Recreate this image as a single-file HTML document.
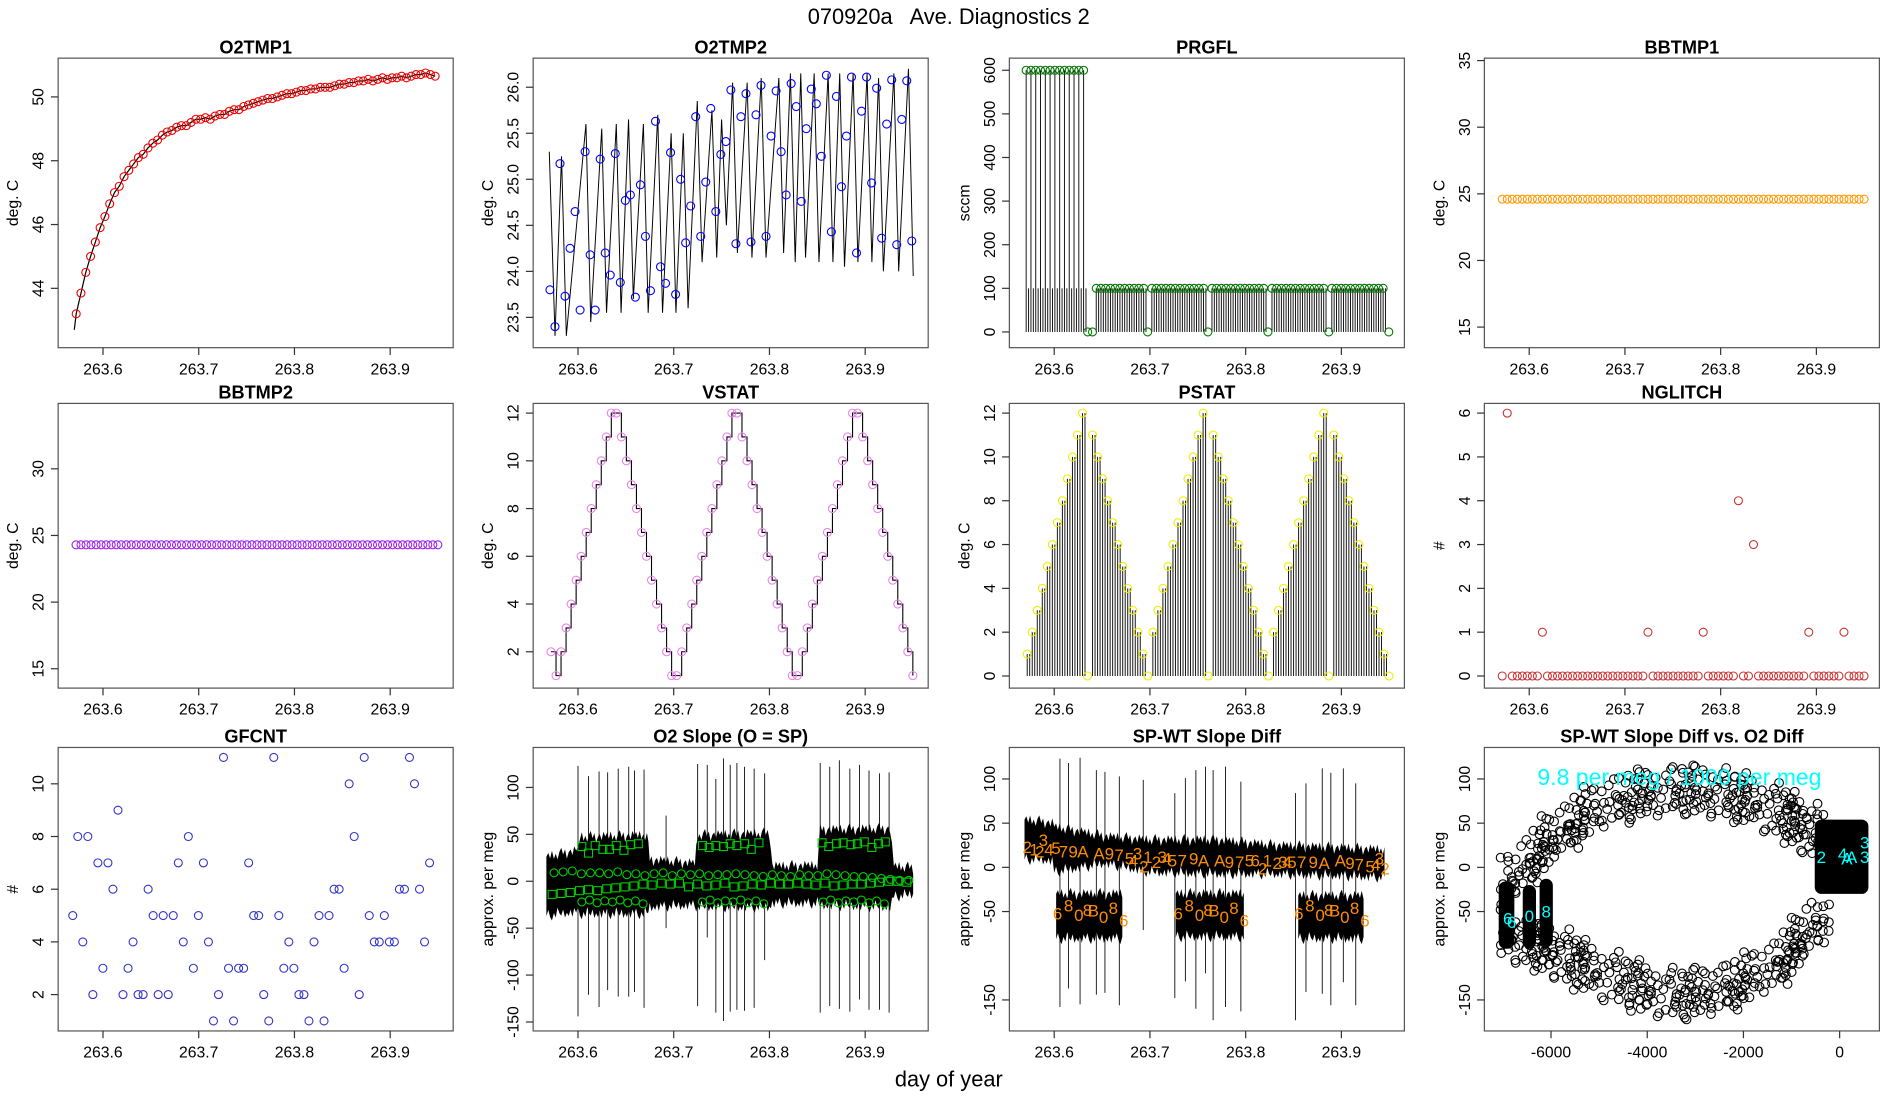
<!DOCTYPE html>
<html><head><meta charset="utf-8"><title>070920a Ave. Diagnostics 2</title>
<style>
html,body{margin:0;padding:0;background:#fff;}
svg{display:block;font-family:"Liberation Sans",Arial,sans-serif;}
</style></head>
<body>
<svg id="chart" xmlns="http://www.w3.org/2000/svg" width="1900" height="1100" viewBox="0 0 1568 908" preserveAspectRatio="none">
<rect x="0" y="0" width="1568" height="908" fill="#fff"/>
<text x="783" y="20" text-anchor="middle" font-size="18" style="white-space:pre">070920a   Ave. Diagnostics 2</text>
<text x="783" y="897" text-anchor="middle" font-size="18">day of year</text>
</svg>
<script>
// ---------- data ----------
const timeTicks = [263.6, 263.7, 263.8, 263.9];
const timeTickLabels = ["263.6", "263.7", "263.8", "263.9"];

const o2tmp1Vals = [43.2,43.85,44.5,45.0,45.45,45.9,46.25,46.65,47.0,47.2,47.5,47.7,47.9,48.1,48.2,48.4,48.55,48.65,48.8,48.9,48.95,49.05,49.1,49.1,49.2,49.3,49.3,49.35,49.3,49.4,49.45,49.45,49.55,49.6,49.6,49.7,49.75,49.8,49.85,49.9,49.95,49.95,50.0,50.05,50.1,50.1,50.15,50.2,50.2,50.25,50.25,50.3,50.3,50.3,50.35,50.4,50.4,50.45,50.45,50.5,50.5,50.55,50.5,50.55,50.6,50.55,50.6,50.6,50.65,50.6,50.65,50.7,50.7,50.75,50.7,50.65];
const o2tmp1Start = [263.570, 42.7];

const o2tmp2Vals = [23.8,23.4,25.17,23.73,24.25,24.65,23.58,25.3,24.18,23.58,25.22,24.2,23.96,25.28,23.88,24.77,24.83,23.72,24.94,24.38,23.79,25.63,24.05,23.87,25.29,23.75,25.0,24.31,24.71,25.68,24.38,24.97,25.77,24.65,25.27,25.41,25.97,24.3,25.68,25.93,24.32,25.7,26.02,24.38,25.47,25.96,25.3,24.83,26.04,25.79,24.76,25.55,25.98,25.82,25.25,26.13,24.43,25.9,24.92,25.47,26.11,24.2,25.74,26.11,24.96,25.99,24.36,25.6,26.08,24.29,25.65,26.07,24.33];
const o2tmp2PeakT = [263.5828,263.6083,263.6248,263.640,263.6528,263.6683,263.6833,263.6973,263.710,263.7246,263.7399,263.750,263.7615,263.7767,263.7914,263.8098,263.8219,263.8327,263.8467,263.8613,263.8734,263.8874,263.902,263.914,263.93,263.9452];
const o2tmp2PeakV = [25.25,25.6,25.55,25.6,25.65,25.6,25.7,25.5,25.5,25.85,25.75,25.65,26.05,26.05,26.1,26.1,26.15,26.15,26.15,26.15,26.15,26.15,26.15,26.1,26.15,26.2];
const o2tmp2TroughV = [23.3,23.45,23.55,23.55,23.7,23.55,23.55,23.55,23.6,24.1,24.15,24.5,24.2,24.15,24.15,24.2,24.1,24.15,24.1,24.1,24.05,24.1,24.1,24.0,24.0,23.95];

const prgGroupStart = [263.5707,263.6439,263.702,263.7648,263.8275,263.890];
const prgGroupEnd   = [263.6307,263.6934,263.756,263.8188,263.8815,263.9436];
const prgGroupCount = [13,11,12,12,12,12];
const prgGroupValue = [600,100,100,100,100,100];
const prgZeroT = [263.635,263.640,263.6976,263.7606,263.8233,263.8868,263.9495];

const bbtmp1Vals = [24.6,24.6,24.6,24.6,24.6,24.6,24.6,24.6,24.6,24.6,24.6,24.6,24.6,24.6,24.6,24.6,24.6,24.6,24.6,24.6,24.6,24.6,24.6,24.6,24.6,24.6,24.6,24.6,24.6,24.6,24.6,24.6,24.6,24.6,24.6,24.6,24.6,24.6,24.6,24.6,24.6,24.6,24.6,24.6,24.6,24.6,24.6,24.6,24.6,24.6,24.6,24.6,24.6,24.6,24.6,24.6,24.6,24.6,24.6,24.6,24.6,24.6,24.6,24.6,24.6,24.6,24.6,24.6,24.6,24.6,24.6,24.6,24.6];
const bbtmp2Vals = [24.3,24.3,24.3,24.3,24.3,24.3,24.3,24.3,24.3,24.3,24.3,24.3,24.3,24.3,24.3,24.3,24.3,24.3,24.3,24.3,24.3,24.3,24.3,24.3,24.3,24.3,24.3,24.3,24.3,24.3,24.3,24.3,24.3,24.3,24.3,24.3,24.3,24.3,24.3,24.3,24.3,24.3,24.3,24.3,24.3,24.3,24.3,24.3,24.3,24.3,24.3,24.3,24.3,24.3,24.3,24.3,24.3,24.3,24.3,24.3,24.3,24.3,24.3,24.3,24.3,24.3,24.3,24.3,24.3,24.3,24.3,24.3,24.3];

const vstatVals = [2,1,2,3,4,5,6,7,8,9,10,11,12,12,11,10,9,8,7,6,5,4,3,2,1,1,2,3,4,5,6,7,8,9,10,11,12,12,11,10,9,8,7,6,5,4,3,2,1,1,2,3,4,5,6,7,8,9,10,11,12,12,11,10,9,8,7,6,5,4,3,2,1];
const pstatVals = [1,2,3,4,5,6,7,8,9,10,11,12,0,11,10,9,8,7,6,5,4,3,2,1,0,2,3,4,5,6,7,8,9,10,11,12,0,11,10,9,8,7,6,5,4,3,2,1,0,2,3,4,5,6,7,8,9,10,11,12,0,11,10,9,8,7,6,5,4,3,2,1,0];
const nglitchVals = [0,6,0,0,0,0,0,0,1,0,0,0,0,0,0,0,0,0,0,0,0,0,0,0,0,0,0,0,0,1,0,0,0,0,0,0,0,0,0,0,1,0,0,0,0,0,0,4,0,0,3,0,0,0,0,0,0,0,0,0,0,1,0,0,0,0,0,0,1,0,0,0,0];
const gfcntVals = [5,8,4,8,2,7,3,7,6,9,2,3,4,2,2,6,5,2,5,2,5,7,4,8,3,5,7,4,1,2,11,3,1,3,3,7,5,5,2,1,11,5,3,4,3,2,2,1,4,5,1,5,6,6,3,10,8,2,11,5,4,4,5,4,4,6,6,11,10,6,4,7];

const slopeSpikeT = [263.600,263.611,263.622,263.631,263.642,263.653,263.659,263.669,263.692,263.725,263.735,263.744,263.752,263.759,263.766,263.774,263.784,263.795,263.853,263.863,263.873,263.884,263.894,263.904,263.915,263.925];
const slopeSpikeHi = [123,112,117,116,120,122,118,119,70,125,124,109,131,124,126,122,120,115,126,122,129,120,124,118,115,116];
const slopeSpikeLo = [-144,-121,-134,-116,-123,-123,-118,-135,-50,-133,-60,-140,-149,-139,-137,-138,-135,-84,-140,-133,-136,-139,-126,-137,-137,-140];
const slopeBandT  = [263.567,263.600,263.602,263.672,263.675,263.722,263.725,263.800,263.803,263.850,263.853,263.926,263.930,263.952];
const slopeBandHi = [26,33,47,49,23,19,49,51,16,17,55,56,16,14];
const slopeBandLo = [-36,-32,-34,-34,-27,-25,-27,-27,-23,-23,-25,-27,-16,-13];
const slopeHighSqT = [263.604,263.611,263.618,263.626,263.633,263.640,263.648,263.655,263.663,263.730,263.737,263.744,263.752,263.759,263.766,263.774,263.781,263.789,263.855,263.862,263.870,263.877,263.885,263.892,263.899,263.907,263.914,263.921];
const slopeHighSqV = [37,30,38,34,34,38,33,39,40,38,36,38,37,40,38,40,34,41,41,37,40,41,39,40,42,36,40,42];
const slopeLowSqV = [-14,-13,-12,-10,-9,-10,-8,-7,-6,-5,-3,-4,-2,-3,-2,-6,-3,-5,-4,-2,-6,-5,-3,-4,-2,-3,-3,-2,-3,-4,-2,-5,-4,-3,-3,-2,-1,0,0,-1];
const slopeMidCircV = [9,10,11,8,9,9,8,10,7,8,6,8,9,6,8,7,8,6,7,7,8,7,6,5,7,6,5,7,6,6,8,7,6,5,5,4,3,2,1,1];
const slopeLowCircT = [263.604,263.612,263.620,263.628,263.636,263.644,263.652,263.660,263.668,263.730,263.738,263.746,263.754,263.762,263.770,263.778,263.786,263.794,263.856,263.864,263.872,263.880,263.888,263.896,263.904,263.912,263.920];
const slopeLowCircV = [-22,-20,-23,-21,-22,-20,-23,-21,-24,-22,-20,-23,-21,-22,-20,-23,-21,-24,-22,-20,-23,-21,-22,-20,-23,-21,-24];

const diffSpikeT = [263.606,263.615,263.627,263.644,263.653,263.668,263.693,263.726,263.737,263.748,263.758,263.766,263.779,263.795,263.852,263.863,263.880,263.889,263.902,263.915];
const diffSpikeHi = [123,118,124,110,108,103,99,84,101,110,114,110,114,97,84,95,112,107,112,95];
const diffSpikeLo = [-158,-137,-155,-144,-142,-156,-71,-148,-129,-160,-120,-173,-158,-163,-173,-141,-143,-156,-130,-156];
const diffBandT  = [263.569,263.598,263.600,263.653,263.700,263.770,263.830,263.900,263.947];
const diffBandHi = [54,50,46,35,31,31,25,22,20];
const diffBandLo = [10,8,-5,5,-5,-7,-7,-9,-11];
const diffBlobT0 = [263.602,263.727,263.855];
const diffBlobT1 = [263.673,263.800,263.925];
const diffBlobHi = [-30,-30,-32];
const diffBlobLo = [-80,-78,-80];
const diffLabelT = [263.5718,263.579,263.585,263.5886,263.5946,263.6018,263.6096,263.6198,263.630,263.6468,263.6576,263.6678,263.6786,263.6828,263.687,263.6936,263.6978,263.7068,263.7128,263.7176,263.7236,263.7338,263.7458,263.756,263.7728,263.783,263.7938,263.804,263.81,263.8178,263.8226,263.8328,263.8388,263.8436,263.8484,263.8586,263.8706,263.882,263.8988,263.909,263.9186,263.93,263.936,263.9396,263.9456,
263.6036,263.615,263.6258,263.6348,263.6408,263.6516,263.6618,263.6726,
263.7296,263.741,263.7518,263.7608,263.7668,263.7776,263.7878,263.7986,
263.8556,263.867,263.8778,263.8868,263.8928,263.9036,263.9138,263.9246];
const diffLabelV = [23,20,18,31,20,22,18,18,18,16,16,14,10,8,16,1,12,6,12,10,8,8,10,8,8,6,6,8,8,-1,8,5,6,6,6,6,6,5,8,5,3,1,3,10,-1,
-52,-43,-54,-48,-49,-56,-46,-60,
-52,-43,-54,-48,-49,-56,-46,-60,
-52,-43,-54,-48,-49,-56,-46,-60];
const diffLabelS = ["2","1","2","3","4","5","7","9","A","A","9","7","5","4","3","2","1","2","3","4","5","7","9","A","A","9","7","5","6","2","1","2","3","4","5","7","9","A","A","9","7","5","4","3","2",
"6","8","0","8","B","0","8","6",
"6","8","0","8","B","0","8","6",
"6","8","0","8","B","0","8","6"];

const ringUpperX = [-6900,-6400,-5900,-5400,-4700,-4000,-3300,-2600,-2000,-1300,-800,-400];
const ringUpperY = [-20,10,35,55,75,83,88,85,78,65,50,35];
const ringLowerX = [-6900,-6400,-5900,-5400,-4700,-4000,-3300,-2600,-2000,-1300,-800,-400];
const ringLowerY = [-75,-85,-95,-110,-125,-138,-145,-140,-130,-110,-85,-55];
const clusterX0 = [-7050,-6550,-6200,-480];
const clusterX1 = [-6800,-6350,-6000,560];
const clusterY0 = [-90,-90,-88,-28];
const clusterY1 = [-18,-22,-15,52];
const scatterLabelX = [-6900,-6820,-6450,-6100,-380,60,150,250,520,520];
const scatterLabelY = [-58,-62,-55,-50,12,15,10,12,28,12];
const scatterLabelS = ["6","6","0","8","2","4","A","A","3","3"];

// ---------- helpers ----------
const NS = "http://www.w3.org/2000/svg";
const svg = document.getElementById("chart");
function el(tag, attrs, parent) {
  const e = document.createElementNS(NS, tag);
  for (const k in attrs) e.setAttribute(k, attrs[k]);
  (parent || svg).appendChild(e);
  return e;
}
const colX0 = [48, 440, 833, 1225];
const rowY0 = [48, 333, 617];
const rowY1 = [287, 568, 851];
const PW = 326;
const ragged = [0, 3, -2, 4, -3, 1, -4, 2, 5, -1, 3, -5, 0, 2, -3, 4];

function makePanel(name, title, col, row, ya, yb, yTicks, yTickLabels, ylabel) {
  const x0 = colX0[col], x1 = x0 + PW, y0 = rowY0[row], y1 = rowY1[row];
  const g = el("g", {});
  
  
  const Y = v => ya[1] + (v - ya[0]) * (yb[1] - ya[1]) / (yb[0] - ya[0]);
  const X = t => x0 + 37 + (t - 263.6) * 790;
  const fr = el("rect", {x: x0, y: y0, width: PW, height: y1 - y0, fill: "none", stroke: "#555", "stroke-width": 1}, g);
  
  
  const tt = el("text", {x: (x0 + x1) / 2, y: y0 - 4, "text-anchor": "middle", "font-size": 15, "font-weight": "bold"}, g);
  tt.textContent = title;
  
  
  const ya_g = el("g", {}, g);
  
  
  yTicks.forEach((v, i) => {
    const yy = Y(v);
    el("line", {x1: x0, x2: x0 - 6, y1: yy, y2: yy, stroke: "#333"}, ya_g);
    const lb = el("text", {x: 0, y: 0, transform: `translate(${x0 - 12},${yy}) rotate(-90)`, "text-anchor": "middle", "font-size": 13}, ya_g);
    lb.textContent = yTickLabels[i];
    
    
  });
  const yl = el("text", {transform: `translate(${x0 - 33},${(y0 + y1) / 2}) rotate(-90)`, "text-anchor": "middle", "font-size": 13}, g);
  yl.textContent = ylabel;
  
  
  const plot = el("g", {}, g);
  
  
  return {x0, x1, y0, y1, X, Y, g, plot};
}
function timeAxis(p, name) {
  const ax = el("g", {}, p.g);
  
  
  timeTicks.forEach((t, i) => {
    const xx = p.X(t);
    el("line", {x1: xx, x2: xx, y1: p.y1, y2: p.y1 + 6, stroke: "#333"}, ax);
    const lb = el("text", {x: xx, y: p.y1 + 22, "text-anchor": "middle", "font-size": 13}, ax);
    lb.textContent = timeTickLabels[i];
    
    
  });
}
function circ(p, x, y, color, r) {
  const c = el("circle", {cx: x, cy: y, r: r || 3.3, fill: "none", stroke: color, "stroke-width": 0.9}, p.plot);
  
  
  return c;
}
function series(n, t0, dt) { const a = []; for (let i = 0; i < n; i++) a.push(t0 + i * dt); return a; }
// ragged band path: piecewise-linear envelope with small edge roughness
function bandPath(p, T, HI, LO) {
  const up = [], dn = [];
  for (let i = 0; i < T.length - 1; i++) {
    const xa = p.X(T[i]), xb = p.X(T[i + 1]);
    const n = Math.max(1, Math.round((xb - xa) / 1.5));
    for (let k = 0; k < n; k++) {
      const s = k / n, x = xa + (xb - xa) * s;
      const r = ragged[(up.length) % ragged.length];
      up.push([x, p.Y(HI[i] + (HI[i + 1] - HI[i]) * s) - r]);
      dn.push([x, p.Y(LO[i] + (LO[i + 1] - LO[i]) * s) + ragged[(dn.length + 5) % ragged.length]]);
    }
  }
  let d = "M" + up.map(q => q[0].toFixed(1) + "," + q[1].toFixed(1)).join(" L");
  d += " L" + dn.reverse().map(q => q[0].toFixed(1) + "," + q[1].toFixed(1)).join(" L") + "Z";
  return d;
}

// ---------- P1 O2TMP1 ----------
{
  const p = makePanel("o2tmp1", "O2TMP1", 0, 0, [44, 238], [50, 80], [44, 46, 48, 50], ["44", "46", "48", "50"], "deg. C");
  timeAxis(p, "o2tmp1");
  const ts = series(o2tmp1Vals.length, 263.572, 0.005);
  let d = `M${p.X(o2tmp1Start[0])},${p.Y(o2tmp1Start[1])}`;
  ts.forEach((t, i) => d += ` L${p.X(t)},${p.Y(o2tmp1Vals[i])}`);
  const ln = el("path", {d, fill: "none", stroke: "#000", "stroke-width": 1}, p.plot);
  
  
  ts.forEach((t, i) => circ(p, p.X(t), p.Y(o2tmp1Vals[i]), "#e00"));
}
// ---------- P2 O2TMP2 ----------
{
  const p = makePanel("o2tmp2", "O2TMP2", 1, 0, [23.5, 262], [26, 72], [23.5, 24, 24.5, 25, 25.5, 26], ["23.5", "24.0", "24.5", "25.0", "25.5", "26.0"], "deg. C");
  timeAxis(p, "o2tmp2");
  let d = `M${p.X(263.570)},${p.Y(25.3)} L${p.X(263.576)},${p.Y(23.3)}`;
  o2tmp2PeakT.forEach((t, i) => { d += ` L${p.X(t)},${p.Y(o2tmp2PeakV[i])} L${p.X(t + 0.005)},${p.Y(o2tmp2TroughV[i])}`; });
  const ln = el("path", {d, fill: "none", stroke: "#000", "stroke-width": 0.8}, p.plot);
  
  
  const ts = series(o2tmp2Vals.length, 263.5707, 0.00525);
  ts.forEach((t, i) => circ(p, p.X(t), p.Y(o2tmp2Vals[i]), "#00f"));
}
// ---------- P3 PRGFL ----------
{
  const p = makePanel("prgfl", "PRGFL", 2, 0, [0, 274], [600, 58], [0, 100, 200, 300, 400, 500, 600], ["0", "100", "200", "300", "400", "500", "600"], "sccm");
  timeAxis(p, "prgfl");
  prgGroupStart.forEach((s, g) => {
    const n = prgGroupCount[g], dt = (prgGroupEnd[g] - s) / (n - 1), v = prgGroupValue[g];
    for (let i = 0; i < n; i++) {
      const t = s + i * dt;
      const a = el("line", {x1: p.X(t), x2: p.X(t), y1: p.Y(0), y2: p.Y(v), stroke: "#111", "stroke-width": 0.8}, p.plot);
      
      
      const b = el("line", {x1: p.X(t + dt / 2), x2: p.X(t + dt / 2), y1: p.Y(0), y2: p.Y(Math.min(v, 100)), stroke: "#111", "stroke-width": 0.8}, p.plot);
      
      
      circ(p, p.X(t), p.Y(v), "#070");
    }
  });
  prgZeroT.forEach(t => circ(p, p.X(t), p.Y(0), "#070"));
}
// ---------- P4 BBTMP1 ----------
{
  const p = makePanel("bbtmp1", "BBTMP1", 3, 0, [15, 270], [35, 50], [15, 20, 25, 30, 35], ["15", "20", "25", "30", "35"], "deg. C");
  timeAxis(p, "bbtmp1");
  series(bbtmp1Vals.length, 263.5718, 0.00525).forEach((t, i) => circ(p, p.X(t), p.Y(bbtmp1Vals[i]), "#f90"));
}
// ---------- P5 BBTMP2 ----------
{
  const p = makePanel("bbtmp2", "BBTMP2", 0, 1, [15, 552], [30, 387], [15, 20, 25, 30], ["15", "20", "25", "30"], "deg. C");
  timeAxis(p, "bbtmp2");
  series(bbtmp2Vals.length, 263.5718, 0.00525).forEach((t, i) => circ(p, p.X(t), p.Y(bbtmp2Vals[i]), "#a020f0"));
}
// ---------- P6 VSTAT ----------
{
  const p = makePanel("vstat", "VSTAT", 1, 1, [2, 538], [12, 341], [2, 4, 6, 8, 10, 12], ["2", "4", "6", "8", "10", "12"], "deg. C");
  timeAxis(p, "vstat");
  const ts = series(vstatVals.length, 263.5718, 0.00525);
  let d = `M${p.X(ts[0])},${p.Y(vstatVals[0])}`;
  ts.forEach((t, i) => { if (i) d += ` H${p.X(t)} V${p.Y(vstatVals[i])}`; });
  const ln = el("path", {d, fill: "none", stroke: "#000", "stroke-width": 0.9}, p.plot);
  
  
  ts.forEach((t, i) => circ(p, p.X(t), p.Y(vstatVals[i]), "#ee82ee"));
}
// ---------- P7 PSTAT ----------
{
  const p = makePanel("pstat", "PSTAT", 2, 1, [0, 558], [12, 341], [0, 2, 4, 6, 8, 10, 12], ["0", "2", "4", "6", "8", "10", "12"], "deg. C");
  timeAxis(p, "pstat");
  const ts = series(pstatVals.length, 263.5718, 0.00525);
  ts.forEach((t, i) => {
    const v = pstatVals[i];
    const a = el("line", {x1: p.X(t), x2: p.X(t), y1: p.Y(0), y2: p.Y(v), stroke: "#111", "stroke-width": 0.8}, p.plot);
    
    
    const b = el("line", {x1: p.X(t + 0.0026), x2: p.X(t + 0.0026), y1: p.Y(0), y2: p.Y(v), stroke: "#111", "stroke-width": 0.8}, p.plot);
    
    
  });
  ts.forEach((t, i) => circ(p, p.X(t), p.Y(pstatVals[i]), "#ee0"));
}
// ---------- P8 NGLITCH ----------
{
  const p = makePanel("nglitch", "NGLITCH", 3, 1, [0, 558], [6, 341], [0, 1, 2, 3, 4, 5, 6], ["0", "1", "2", "3", "4", "5", "6"], "#");
  timeAxis(p, "nglitch");
  series(nglitchVals.length, 263.5718, 0.00525).forEach((t, i) => circ(p, p.X(t), p.Y(nglitchVals[i]), "#c33"));
}
// ---------- P9 GFCNT ----------
{
  const p = makePanel("gfcnt", "GFCNT", 0, 2, [2, 821], [10, 647], [2, 4, 6, 8, 10], ["2", "4", "6", "8", "10"], "#");
  timeAxis(p, "gfcnt");
  series(gfcntVals.length, 263.5684, 0.00525).forEach((t, i) => circ(p, p.X(t), p.Y(gfcntVals[i]), "#33c"));
}
// ---------- P10 O2 Slope ----------
{
  const p = makePanel("o2-slope", "O2 Slope (O = SP)", 1, 2, [100, 650], [-150, 843.6], [-150, -100, -50, 0, 50, 100], ["-150", "-100", "-50", "0", "50", "100"], "approx. per meg");
  timeAxis(p, "o2-slope");
  slopeSpikeT.forEach((t, i) => {
    const s = el("line", {x1: p.X(t), x2: p.X(t), y1: p.Y(slopeSpikeHi[i]), y2: p.Y(slopeSpikeLo[i]), stroke: "#000", "stroke-width": 0.7}, p.plot);
    
    
  });
  const band = el("path", {d: bandPath(p, slopeBandT, slopeBandHi, slopeBandLo), fill: "#000", stroke: "none"}, p.plot);
  
  
  const sq = (x, y) => {
    const r = el("rect", {x: x - 3.3, y: y - 3.3, width: 6.6, height: 6.6, fill: "none", stroke: "#0c0", "stroke-width": 0.9}, p.plot);
    
    
  };
  slopeHighSqT.forEach((t, i) => sq(p.X(t), p.Y(slopeHighSqV[i])));
  series(slopeLowSqV.length, 263.573, 0.0095).forEach((t, i) => sq(p.X(t), p.Y(slopeLowSqV[i])));
  series(slopeMidCircV.length, 263.575, 0.0095).forEach((t, i) => circ(p, p.X(t), p.Y(slopeMidCircV[i]), "#0c0"));
  slopeLowCircT.forEach((t, i) => circ(p, p.X(t), p.Y(slopeLowCircV[i]), "#0c0"));
}
// ---------- P11 SP-WT Slope Diff ----------
{
  const p = makePanel("sp-wt-diff", "SP-WT Slope Diff", 2, 2, [100, 643], [-150, 825.4], [-150, -50, 0, 50, 100], ["-150", "-50", "0", "50", "100"], "approx. per meg");
  timeAxis(p, "sp-wt-diff");
  diffSpikeT.forEach((t, i) => {
    const s = el("line", {x1: p.X(t), x2: p.X(t), y1: p.Y(diffSpikeHi[i]), y2: p.Y(diffSpikeLo[i]), stroke: "#000", "stroke-width": 0.7}, p.plot);
    
    
  });
  const band = el("path", {d: bandPath(p, diffBandT, diffBandHi, diffBandLo), fill: "#000", stroke: "none"}, p.plot);
  
  
  diffBlobT0.forEach((t, i) => {
    const b = el("path", {d: bandPath(p, [t, diffBlobT1[i]], [diffBlobHi[i], diffBlobHi[i]], [diffBlobLo[i], diffBlobLo[i]]), fill: "#000"}, p.plot);
    
    
  });
  diffLabelT.forEach((t, i) => {
    const tx = el("text", {x: p.X(t), y: p.Y(diffLabelV[i]) + 5, "text-anchor": "middle", "font-size": 14, fill: "#ff8c00"}, p.plot);
    tx.textContent = diffLabelS[i];
    
    
  });
}
// ---------- P12 scatter ----------
{
  const p = makePanel("diff-vs-o2", "SP-WT Slope Diff vs. O2 Diff", 3, 2, [100, 643], [-150, 825.4], [-150, -50, 0, 50, 100], ["-150", "-50", "0", "50", "100"], "approx. per meg");
  const SX = v => 1518.2 + v * (1518.2 - 1280) / 6000;
  const ax = el("g", {}, p.g);
  
  
  const xTicks = [-6000, -4000, -2000, 0];
  const xTickLabels = ["-6000", "-4000", "-2000", "0"];
  xTicks.forEach((v, i) => {
    el("line", {x1: SX(v), x2: SX(v), y1: p.y1, y2: p.y1 + 6, stroke: "#333"}, ax);
    const lb = el("text", {x: SX(v), y: p.y1 + 22, "text-anchor": "middle", "font-size": 13}, ax);
    lb.textContent = xTickLabels[i];
    
    
  });
  const jitter = [-22, -7, 13, 3, -15, 24, -2, 9, -27, 17, -11, 6, 28, -19, 1, -4, 20, -13];
  const drawArc = (xs, ys) => {
    let k = 0;
    for (let i = 0; i < xs.length - 1; i++) {
      for (let s = 0; s < 1; s += 0.1) {
        const x = xs[i] + (xs[i + 1] - xs[i]) * s, y = ys[i] + (ys[i + 1] - ys[i]) * s;
        for (let j = 0; j < 3; j++) {
          const jy = jitter[(k * 5 + j * 7) % jitter.length], jx = jitter[(k * 11 + j * 3 + 4) % jitter.length] * 9;
          circ(p, SX(x + jx), p.Y(y + jy), "#000", 3.6);
        }
        k++;
      }
    }
  };
  drawArc(ringUpperX, ringUpperY);
  drawArc(ringLowerX, ringLowerY);
  clusterX0.forEach((x0, i) => {
    const r = el("rect", {x: SX(x0), y: p.Y(clusterY1[i]), width: SX(clusterX1[i]) - SX(x0), height: p.Y(clusterY0[i]) - p.Y(clusterY1[i]), rx: 4, fill: "#000", stroke: "#000", "stroke-width": 3}, p.plot);
    
    
  });
  scatterLabelX.forEach((x, i) => {
    const tx = el("text", {x: SX(x), y: p.Y(scatterLabelY[i]) + 5, "text-anchor": "middle", "font-size": 14, fill: "#0ff"}, p.plot);
    tx.textContent = scatterLabelS[i];
    
    
  });
  const note = el("text", {x: 1386, y: 648, "text-anchor": "middle", "font-size": 19, fill: "#0ff"}, p.plot);
  note.textContent = "9.8 per meg / 1000 per meg";
  
  
}
</script>
</body></html>
